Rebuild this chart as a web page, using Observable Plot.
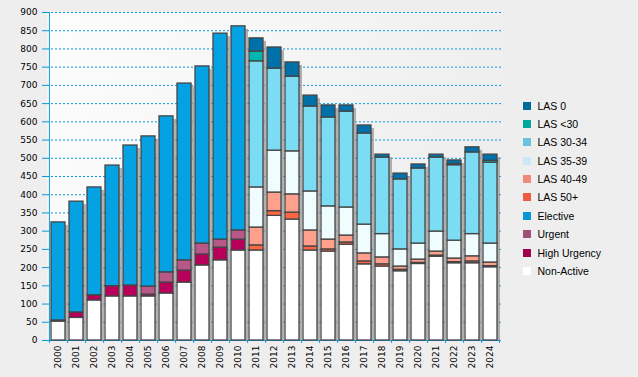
<!DOCTYPE html>
<html><head><meta charset="utf-8">
<script src="https://cdn.jsdelivr.net/npm/d3@7"></script>
<script src="https://cdn.jsdelivr.net/npm/@observablehq/plot@0.6"></script>
<style>
html,body{margin:0;padding:0;background:#eeeeee;}
#wrap{position:relative;width:638px;height:377px;overflow:hidden;background:#eeeeee;}
#legend{position:absolute;left:522.5px;top:96.6px;font:10.5px "Liberation Sans",Arial,sans-serif;color:#000;}
.item{height:18.35px;display:flex;align-items:center;white-space:nowrap;}
.sw{width:8px;height:8px;margin-right:7px;flex:none;}
</style>
</head><body><div id="wrap"><div id="legend"></div></div>
<script>
const years = ["2000","2001","2002","2003","2004","2005","2006","2007","2008","2009","2010","2011","2012","2013","2014","2015","2016","2017","2018","2019","2020","2021","2022","2023","2024"];
const series = ["Non-Active","High Urgency","Urgent","Elective","LAS 50+","LAS 40-49","LAS 35-39","LAS 30-34","LAS <30","LAS 0"];
const nonActive   = [52,62,110,121,121,121,129,159,206,220,247,247,342,332,247,244,263,209,203,190,210,230,212,212,201];
const highUrgency = [3,15,14,28,30,5,30,33,30,35,30,0,0,0,0,0,0,0,0,0,0,0,0,0,0];
const urgent      = [0,0,0,0,0,22,28,28,30,22,25,0,0,0,0,0,0,0,0,0,0,0,0,0,0];
const elective    = [269,304,296,331,384,412,428,485,486,565,560,0,0,0,0,0,0,0,0,0,0,0,0,0,0];
const las50       = [0,0,0,0,0,0,0,0,0,0,0,14,13,19,11,6,6,8,6,4,3,3,3,5,3];
const las4049     = [0,0,0,0,0,0,0,0,0,0,0,49,51,50,44,27,19,22,19,9,9,11,10,14,10];
const las3539     = [0,0,0,0,0,0,0,0,0,0,0,110,115,118,107,91,77,79,64,47,44,55,49,61,52];
const las3034     = [0,0,0,0,0,0,0,0,0,0,0,346,225,205,233,244,263,250,210,192,206,203,207,224,222];
const lasUnder30  = [0,0,0,0,0,0,0,0,0,0,0,27,0,0,0,0,0,0,0,0,0,0,3,0,5];
const las0        = [0,0,0,0,0,0,0,0,0,0,0,36,58,39,30,33,17,22,8,16,11,8,10,14,17];
const yTicks = [0,50,100,150,200,250,300,350,400,450,500,550,600,650,700,750,800,850,900];

const seriesValues = [nonActive,highUrgency,urgent,elective,las50,las4049,las3539,las3034,lasUnder30,las0];
const barColors = ["#ffffff","#b8005a","#b85888","#04a2e2","#ff6644","#ffa08c","#effdff","#7cdcf4","#00b8b0","#0070a8"];
const legendColors = ["#ffffff","#a0004e","#a05078","#0898d8","#f05a40","#f08a7a","#cce8f6","#6cc4dc","#00a89c","#006a9a"];

const rows = [];
years.forEach((yr, i) => {
  series.forEach((s, k) => {
    const v = seriesValues[k][i];
    if (v > 0) rows.push({year: yr, series: s, value: v});
  });
});
const totals = years.map((yr, i) => d3.sum(seriesValues, arr => arr[i]));

const W = 638, H = 377, ML = 47, MR = 137, MT = 12, MB = 37;
const step = (W - ML - MR) / years.length;
const blue = "#0a9ad9";

const svg = Plot.plot({
  width: W, height: H,
  marginLeft: ML, marginRight: MR, marginTop: MT, marginBottom: MB,
  style: {background: "#eeeeee", fontFamily: "DejaVu Sans", fontSize: "9px", color: "#000", overflow: "visible"},
  x: {domain: years, paddingInner: 0.25, paddingOuter: 0.125, label: null},
  y: {domain: [0, 900], label: null},
  color: {domain: series, range: barColors},
  marks: [
    Plot.frame({fill: "url(#bgGrad)", stroke: null}),
    Plot.gridY(yTicks.filter(t => t > 0), {stroke: blue, strokeOpacity: 1, strokeWidth: 1, strokeDasharray: "2,2"}),
    Plot.ruleY([0], {stroke: blue}),
    Plot.barY(years, {x: d => d, y: (d, i) => totals[i], fill: "#8c8c8c", fillOpacity: 0.65, dx: 3, dy: 3, insetBottom: 3}),
    Plot.barY(rows, {x: "year", y: "value", fill: "series", stroke: "#454545", strokeWidth: 1.3}),
    Plot.ruleX([years[0]], {dx: -step / 2, stroke: blue, strokeWidth: 1}),
    Plot.axisY(yTicks, {tickSize: 5, tickPadding: 5, stroke: blue, fill: "#000", fontSize: 9}),
    Plot.axisX(years, {tickSize: 3, dx: step / 2, tickFormat: () => "", stroke: blue}),
    Plot.axisX([years[0]], {tickSize: 3, dx: -step / 2, tickFormat: () => "", stroke: blue}),
    Plot.axisX(years, {tickSize: 0, tickPadding: 5, tickRotate: -90, fill: "#000", fontSize: 9})
  ]
});

const ns = "http://www.w3.org/2000/svg";
const defs = document.createElementNS(ns, "defs");
defs.innerHTML = '<linearGradient id="bgGrad" x1="0" y1="0" x2="1" y2="0.3"><stop offset="0" stop-color="#fdfdfd"/><stop offset="1" stop-color="#eeeeee"/></linearGradient>';
svg.insertBefore(defs, svg.firstChild);
document.getElementById("wrap").prepend(svg);

const legend = document.getElementById("legend");
for (let k = series.length - 1; k >= 0; k--) {
  const it = document.createElement("div");
  it.className = "item";
  const sw = document.createElement("span");
  sw.className = "sw";
  sw.style.background = legendColors[k];
  it.appendChild(sw);
  it.appendChild(document.createTextNode(series[k]));
  legend.appendChild(it);
}
</script>
</body></html>
